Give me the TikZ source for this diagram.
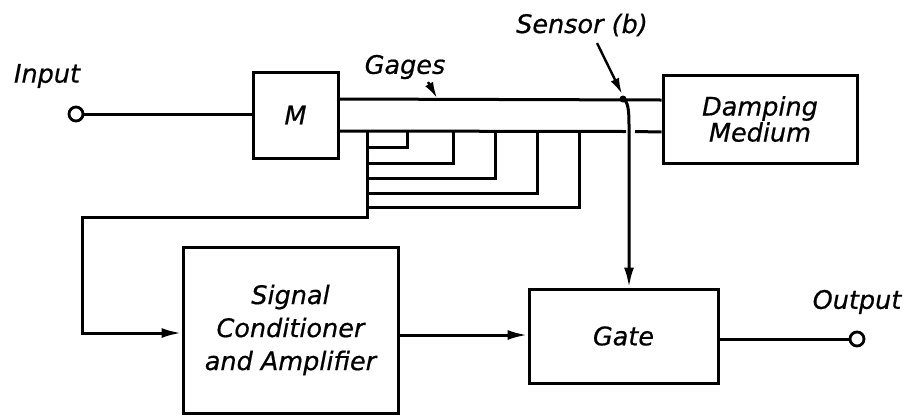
\documentclass[tikz,border=0pt]{standalone}
\usepackage{fontspec}
\setmainfont{DejaVu Sans}[ItalicFont={DejaVu Sans Oblique}, ItalicFeatures={FakeBold=0.6}]
\usetikzlibrary{arrows.meta}
\newcommand{\lbl}{\fontsize{25.5}{26}\selectfont\itshape}
\tikzset{
  wire/.style={line width=3pt},
  blockbox/.style={draw, line width=3pt, inner sep=0pt, font=\lbl, align=center},
  term/.style={draw, circle, line width=2.8pt, minimum size=14pt, inner sep=0pt},
  tag/.style={font=\lbl, inner sep=0pt},
  arr/.style={-{Latex[length=20pt,width=10pt]}},
  thinarr/.style={line width=2.4pt,-{Latex[length=16pt,width=9pt]}}
}
\begin{document}
\begin{tikzpicture}[x=1pt,y=-1pt]
\useasboundingbox (0,0) rectangle (910,416);
% blocks
\node[blockbox, minimum width=85pt, minimum height=86pt] (M) at (295.5,115) {M};
\node[blockbox, minimum width=194pt, minimum height=88pt] (D) at (760,119) {Damping\\Medium};
\node[blockbox, minimum width=215pt, minimum height=166pt, font=\fontsize{25.5}{33}\selectfont\itshape] (SC) at (290.5,330) {Signal\\Conditioner\\and Amplifier};
\node[blockbox, minimum width=189pt, minimum height=94pt] (G) at (623.5,336) {Gate};
% terminals
\node[term] (in) at (76,114) {};
\node[term] (out) at (857,339) {};
% labels
\node[tag] (lin) at (47,76) {Input};
\node[tag] (lout) at (857,302) {Output};
\node[tag] (lgag) at (405,67) {Gages};
\node[tag] (lsen) at (582,25) {Sensor (b)};
% coordinates
\coordinate (bt1) at (M.east |- 0,99);
\coordinate (bt2) at (D.west |- 0,100);
\coordinate (bb1) at (M.east |- 0,131);
\coordinate (bb2) at (D.west |- 0,132);
\coordinate (sd) at (623,99);
\coordinate (sv) at (629,125);
\coordinate (gap1) at (626,131.5);
\coordinate (gap2) at (635,131.5);
\coordinate (bus) at (367,131);
\coordinate (busb) at (367,217);
\coordinate (fbl) at (82,217);
\coordinate (fbd) at (82,333);
\coordinate (gagtip) at (437,98);
\coordinate (gagtail) at (428,82);
\coordinate (sentip) at (622,94);
\coordinate (sentail) at (597,43);
% input
\draw[wire] (in) -- (in -| M.west);
% bar
\draw[wire] (bt1) -- (bt2);
\draw[wire] (bb1) -- (gap1);
\draw[wire] (gap2) -- (bb2);
% sensor
\fill (sd) circle (3.5pt);
\draw[wire, arr] (sd) .. controls (628,101) and (629,110) .. (sv) -- (sv |- G.north);
% gage loops
\draw[wire] (407,131) |- (367,147);
\draw[wire] (453,131) |- (367,163);
\draw[wire] (495,131) |- (367,178);
\draw[wire] (537,131) |- (367,193);
\draw[wire] (579,131) |- (367,207);
% bus and feedback
\draw[wire, arr] (bus) -- (busb) -- (fbl) -- (fbd) -- (fbd -| SC.west);
% SC to gate
\draw[wire, arr] (SC.east |- 0,335) -- (G.west |- 0,335);
% output
\draw[wire] (G.east |- out) -- (out);
% label arrows
\draw[thinarr] (gagtail) -- (gagtip);
\draw[thinarr] (sentail) -- (sentip);
\end{tikzpicture}
\end{document}
